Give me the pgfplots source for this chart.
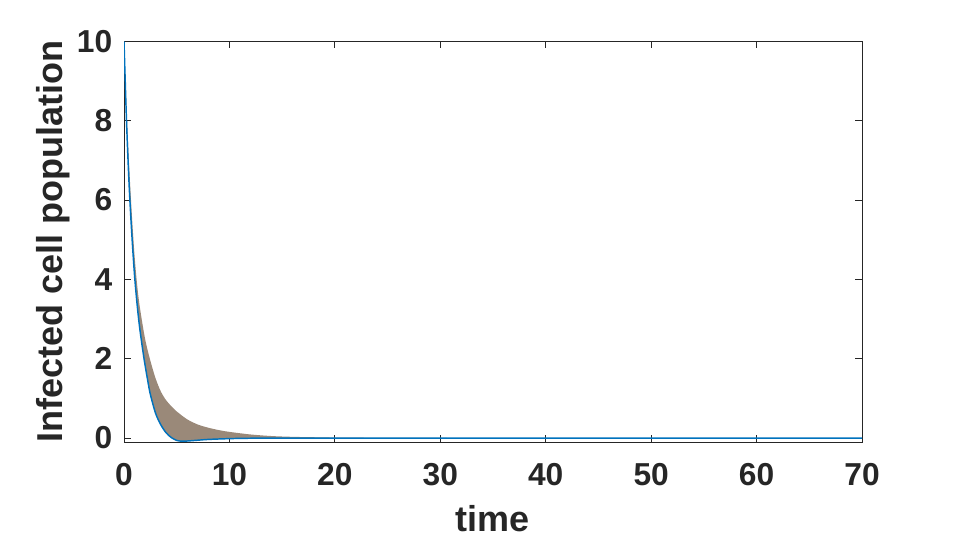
\documentclass[border=0pt]{standalone}
\usepackage{pgfplots}
\pgfplotsset{compat=1.18}
\usepackage{pgfplotstable}
\usepgfplotslibrary{fillbetween}
\usepackage{fontspec}
\setmainfont{Liberation Sans}
\definecolor{axgray}{RGB}{38,38,38}
\definecolor{mblue}{RGB}{0,114,189}
\definecolor{bandc}{RGB}{154,137,121}

\pgfplotstableread{
t y
0 10
0.25 8.2
0.5 6.8
0.75 5.6
1.0 4.6
1.25 3.85
1.5 3.3
2.0 2.5
2.5 1.95
3.0 1.5
3.5 1.17
4.0 0.95
4.5 0.80
5.0 0.67
6.0 0.47
7.0 0.34
8.0 0.26
9.0 0.20
10 0.155
12 0.09
14 0.05
16 0.03
18 0.02
20 0.012
25 0.004
30 0.001
40 0
70 0
}\uppercurve

\pgfplotstableread{
t y
0 10
0.25 7.9
0.5 6.3
0.75 5.1
1.0 4.1
1.25 3.35
1.5 2.75
1.9 2.0
2.25 1.45
2.5 1.1
3.0 0.62
3.5 0.33
4.0 0.13
4.5 0.01
5.0 -0.06
5.5 -0.08
6.0 -0.075
7.0 -0.055
8.0 -0.035
10 -0.015
12 -0.005
15 0
40 0
70 0
}\lowercurve

\begin{document}
\begin{tikzpicture}
\begin{axis}[
  name=ax,
  scale only axis,
  width=553.5pt, height=300.5pt,
  xmin=0, xmax=70, ymin=-0.1, ymax=10,
  xtick={0,10,...,70}, ytick={0,2,...,10},
  tick align=inside,
  major tick length=5pt,
  axis line style={axgray, line width=0.75pt},
  every tick/.style={axgray, line width=0.75pt},
  /pgf/number format/assume math mode=true,
  tick label style={font=\fontsize{23.8}{28}\selectfont\bfseries, text=axgray, inner sep=0pt},
  xticklabel style={anchor=base, yshift=-32.25pt},
  yticklabel style={anchor=east, xshift=-8.6pt},
  xlabel={time},
  ylabel={Infected cell population},
  label style={font=\fontsize{27}{32}\selectfont\bfseries, text=axgray, inner sep=0pt},
  xlabel style={at={(axis description cs:0.5,-0.224)}, anchor=base},
  ylabel style={at={(axis description cs:-0.0732,0.5)}, anchor=south, rotate=0},
]
\addplot[draw=none, smooth, name path=U] table[x=t,y=y] {\uppercurve};
\addplot[draw=none, smooth, name path=L] table[x=t,y=y] {\lowercurve};
\addplot[bandc, fill opacity=1] fill between[of=U and L];
\addplot[mblue, line width=1.1pt, smooth] table[x=t,y=y] {\lowercurve};
\end{axis}
\path ([xshift=-93pt,yshift=-75pt]ax.south west) rectangle ([xshift=69.75pt,yshift=31pt]ax.north east);
\end{tikzpicture}
\end{document}
